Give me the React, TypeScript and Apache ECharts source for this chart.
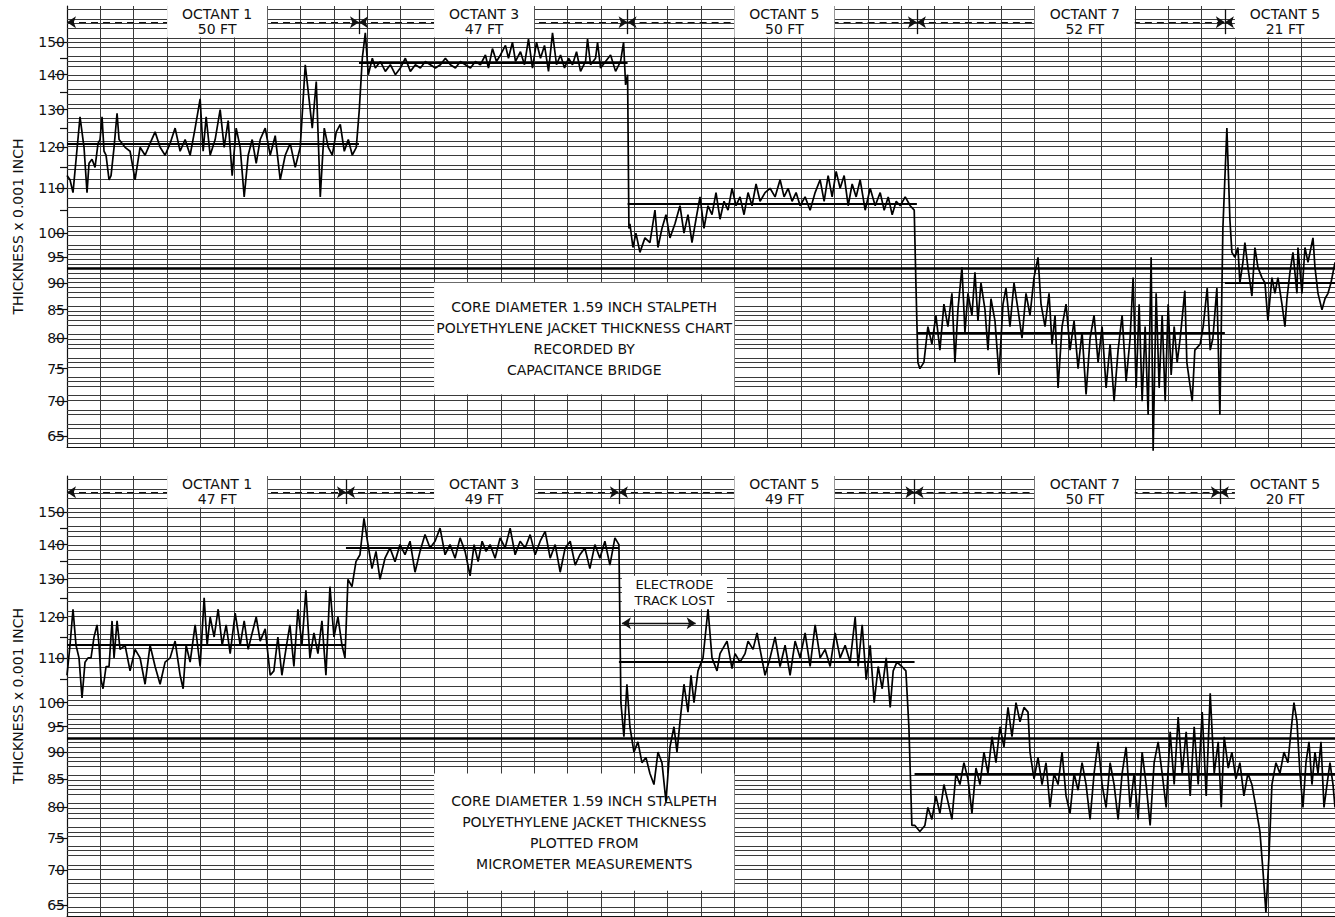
import React, { useEffect, useRef } from 'react';
import * as echarts from 'echarts';

// ---------- DATA ----------
const yLabelValues = [65, 70, 75, 80, 85, 90, 95, 100, 110, 120, 130, 140, 150];
const yMinorTickValues = [105, 115, 125, 135, 145];
const yRange = [63.5, 162];
const xRange = [0, 380];
const referenceLevel = 93;

const topOctantNames = ['OCTANT 1', 'OCTANT 3', 'OCTANT 5', 'OCTANT 7', 'OCTANT 5'];
const topOctantFeet = ['50 FT', '47 FT', '50 FT', '52 FT', '21 FT'];
const topOctantBounds = [0, 87.5, 168, 254.7, 347, 380];
const topOctantMeans = [121, 143.5, 106.5, 81, 90];

const bottomOctantNames = ['OCTANT 1', 'OCTANT 3', 'OCTANT 5', 'OCTANT 7', 'OCTANT 5'];
const bottomOctantFeet = ['47 FT', '49 FT', '49 FT', '50 FT', '20 FT'];
const bottomOctantBounds = [0, 83.6, 165.4, 254, 345.5, 380];
const bottomOctantMeans = [113, 139, 109, 86, 86];

const topNote = 'CORE DIAMETER 1.59 INCH STALPETH\nPOLYETHYLENE JACKET THICKNESS CHART\nRECORDED BY\nCAPACITANCE BRIDGE';
const bottomNote = 'CORE DIAMETER 1.59 INCH STALPETH\nPOLYETHYLENE JACKET THICKNESS\nPLOTTED FROM\nMICROMETER MEASUREMENTS';
const trackLostNote = 'ELECTRODE\nTRACK LOST';
const axisTitle = 'THICKNESS x 0.001 INCH';

// top trace: [chart position, thickness]
const topOctant1: [number, number][] = [
  [0,113],[0.9,112],[1.8,109],[3.9,128],[5.1,120],[6,109],[6.6,116],[7.5,117],[8.4,115],[9.3,121],[9.9,122],[10.5,128],[11.1,119],[11.7,118],[12.6,112],[13.2,113],[14.1,120],[15,129],[15.6,122],[17.4,120],[18.9,119],[20.4,112],[21.9,120],[23.4,118],[24.9,121],[26.4,124],[27.9,120],[29.4,118],[30.9,121],[32.4,125],[33.9,119],[35.4,122],[36.9,118],[38.4,125],[39.9,133],[40.8,119],[41.7,128],[42.9,118],[44.4,122],[45.9,130],[47.1,120],[48.3,127],[49.5,113],[50.7,125],[51.9,120],[53.1,108],[54.3,118],[55.5,122],[56.7,116],[57.9,122],[59.4,125],[60.9,118],[62.4,123],[63.9,112],[65.4,118],[66.9,121],[68.4,115],[69.9,120],[71.4,143],[72.3,135],[73.5,125],[74.7,138],[75.9,108],[77.1,125],[78.3,120],[79.5,118],[80.7,124],[81.9,126],[83.1,119],[84.3,122],[85.5,118],[86.7,120]
];
const topOctant3: [number, number][] = [
  [87.6,130],[88.5,145],[89.4,153],[90.3,140],[91.5,145],[92.4,142],[93.9,144],[95.4,141],[96.9,143],[98.4,140],[99.9,142],[101.4,145],[102.9,141],[104.4,143],[105.9,142],[107.4,144],[108.9,143],[110.4,142],[111.9,143],[113.4,145],[114.9,143],[116.4,142],[117.9,144],[119.4,143],[120.9,142],[122.4,144],[123.9,143],[125.4,146],[126.3,142],[127.5,148],[128.7,144],[129.9,146],[131.4,149],[132.3,145],[133.5,150],[134.4,144],[135.9,147],[137.1,143],[138.3,151],[139.5,142],[140.7,150],[141.9,145],[143.1,149],[144.3,141],[145.5,153],[146.7,143],[147.9,146],[149.1,142],[150.3,145],[151.5,143],[152.7,147],[153.9,141],[155.4,144],[156,151],[156.9,143],[158.4,145],[159,150],[159.9,142],[161.4,144],[162.9,146],[164.4,141],[165.9,144],[166.8,150],[167.4,137],[168,140]
];
const topOctant5: [number, number][] = [
  [168.4,101],[168.7,102],[169.6,97],[170.5,100],[171.7,96],[173.2,99],[174.7,98],[176.2,105],[177.1,97],[178.3,101],[179.5,104],[180.7,99],[182.2,102],[183.7,106],[184.9,100],[186.1,104],[187.3,98],[188.5,103],[189.7,108],[190.9,101],[192.1,106],[193.3,104],[194.5,109],[195.7,103],[196.9,107],[198.1,105],[199.3,110],[200.5,106],[201.7,108],[202.9,104],[204.1,109],[205.3,106],[206.5,111],[207.7,107],[209.2,109],[210.7,110],[212.2,108],[213.7,112],[214.9,108],[216.1,110],[217.3,107],[218.5,109],[219.7,106],[221.2,108],[222.7,105],[224.2,109],[225.7,112],[226.9,107],[228.1,113],[229.3,108],[230.5,114],[231.7,110],[232.9,113],[234.1,106],[235.3,111],[236.5,108],[237.7,112],[239.2,105],[240.7,110],[242.2,106],[243.7,109],[244.9,105],[246.1,108],[247.3,104],[248.5,107],[249.7,106],[251.2,108],[252.7,106],[253.9,105],[254.4,90]
];
const topOctant7: [number, number][] = [
  [255,76],[255.6,75],[256.8,76],[258,82],[259.2,79],[260.4,84],[261.6,78],[262.8,86],[264,82],[265.2,88],[266.1,76],[267,85],[268.2,93],[269.1,81],[270,88],[271.2,84],[272.1,92],[273,83],[273.9,90],[275.1,85],[276,78],[276.9,87],[278.1,83],[279.3,74],[280.5,86],[281.4,89],[282.6,82],[283.8,90],[285,85],[286.2,80],[287.4,88],[288.6,84],[289.8,91],[291,95],[291.9,86],[293.1,82],[294.3,88],[295.2,79],[296.1,84],[297,72],[298.2,82],[299.4,86],[300.6,78],[301.8,83],[303,75],[304.2,81],[305.4,71],[306.6,80],[307.8,84],[309,76],[310.2,82],[311.4,72],[312.6,79],[313.8,70],[315,78],[316.2,84],[317.4,73],[318.6,80],[319.5,91],[320.4,72],[321.3,86],[322.2,70],[323.1,82],[324,68],[324.9,95],[325.5,63],[326.4,88],[327.3,72],[328.2,84],[329.1,70],[330,86],[330.9,74],[331.8,82],[332.7,76],[333.6,80],[335,88.5],[335.6,76],[337.2,70],[338,78],[339.6,79],[340.5,82],[341.7,89],[342.6,78],[343.4,80],[344.6,89],[345.5,68],[346.4,101]
];
const topOctant5b: [number, number][] = [
  [347.6,125],[348.5,103],[349.1,96],[350,95],[350.9,97],[351.5,90],[352.4,94],[353,98],[353.9,93],[355.1,87.5],[356,97],[356.9,93],[358.1,91],[359,90],[359.9,83],[361.1,91],[362,88],[362.9,91],[364.1,86],[365,82],[365.6,87],[366.5,92],[367.4,96],[368.6,88],[368.9,97],[370.1,88],[371,97],[371.9,94],[373.4,99],[374,93],[374.9,88],[376.1,85],[377,87],[377.9,88],[378.8,90],[380,94]
];

// bottom trace
const bottomOctant1: [number, number][] = [
  [0,106],[0.9,113],[1.8,122],[2.7,113],[3.6,110],[4.5,101],[5.4,109],[6.3,110],[7.2,110],[8.1,115],[9,118],[9.6,113],[10.2,105],[10.8,103],[11.7,108],[12.6,108],[13.5,119],[14.1,110],[15,119],[15.9,112],[17.4,113],[18.9,107],[20.4,112],[21.9,110],[23.4,104],[24.9,113],[26.4,108],[27.9,104],[29.4,109],[30.9,110],[32.4,114],[33.9,106],[34.8,103],[35.7,113],[36.9,109],[38.4,118],[39.9,108],[41.1,125],[42,113],[42.9,120],[44.1,115],[45.3,122],[46.5,113],[47.7,118],[48.9,111],[50.4,121],[51.9,113],[53.1,119],[54.3,112],[55.5,116],[56.7,120],[57.9,114],[59.4,117],[60.9,106],[62,107],[63.2,115],[64.4,106],[65.6,112],[66.8,118],[68,108],[69.2,122],[70.4,113],[71.6,127],[72.8,110],[74,116],[75.2,111],[76.4,119],[77.6,106],[78.8,128],[80,115],[81.2,120],[82.4,113],[83.3,110]
];
const bottomOctant3: [number, number][] = [
  [84.2,130],[85.4,128],[86.6,135],[87.8,137],[89,148],[90.2,140],[91.4,133],[92.6,138],[93.8,130],[95.3,136],[96.8,139],[98.3,135],[99.8,140],[101.3,137],[102.8,141],[104.3,132],[105.8,138],[107.3,143],[108.8,139],[110.3,141],[111.8,145],[113.3,137],[114.8,140],[116.3,136],[117.8,142],[119.3,138],[120.8,131],[122,140],[123.2,135],[124.4,141],[125.6,138],[126.8,140],[128.3,136],[129.8,142],[131.3,139],[132.8,145],[134.3,137],[135.8,141],[137.3,139],[138.8,143],[140.3,137],[141.8,141],[143.3,144],[144.8,136],[146.3,140],[147.8,132],[149.3,139],[150.8,141],[152.3,134],[153.7,137],[155.2,139],[156.7,133],[158.2,140],[159.7,136],[161.2,141],[162.7,134],[164.2,142],[165.4,140]
];
const bottomOctant5: [number, number][] = [
  [166,100],[166.9,93],[167.8,104],[168.7,95],[169.9,90],[171.1,92],[172.3,88],[173.5,89],[174.7,86],[175.9,84],[177.1,90],[178.3,88],[179.5,81],[180.7,91],[181.9,95],[182.8,90],[183.7,96],[184.9,104],[186.1,98],[187,106],[187.9,100],[189.1,107],[190.6,110],[192.1,122],[193.3,110],[194.8,107],[195.7,111],[197.8,114],[199.3,107.5],[200.2,111],[201.7,109],[203.2,111],[204.1,114],[205.6,112],[206.8,116],[207.7,112],[209.2,106],[210.7,110],[212.2,115],[213.7,108],[215.2,113],[216.7,106],[218.2,114],[219.7,110],[221.2,116],[222.7,108],[224.2,118],[225.7,110],[227.2,112],[228.7,108],[230.2,116],[231.7,110],[233.2,113],[234.7,109],[236.2,120],[237.1,108],[238.3,118],[239.5,105],[240.7,113],[241.9,100],[243.1,108],[244.3,103],[245.5,110],[246.7,99],[247.6,107],[248.7,109],[250.2,108],[251.4,107],[252.3,95],[253.2,77]
];
const bottomOctant7: [number, number][] = [
  [254.1,77],[255.6,76],[257.1,77],[258,80],[259.2,78],[260.4,82],[261.6,79],[262.8,84],[264,81],[265.2,78],[266.4,86],[267.6,84],[268.8,88],[270,85],[271.2,79],[272.4,87],[273.6,84],[274.8,90],[276,86],[277.2,93],[278.4,88],[279.6,95],[280.8,91],[282,99],[283.2,93],[284.4,100],[285.6,96],[286.8,99],[288,98],[288.6,90],[289.8,85],[291,89],[292.2,84],[293.4,88],[294.6,80],[295.8,86],[297,84],[298.2,90],[299.4,82],[300.6,79],[301.8,86],[303,83],[304.2,88],[305.4,84],[306.6,78],[307.8,86],[309,92],[310.2,84],[311.4,80],[312.6,88],[313.8,84],[315,78],[316.2,86],[317.4,91],[318.6,80],[319.8,86],[321,78],[322.2,90],[323.4,84],[324.6,77],[325.8,88],[327,92],[328.2,86],[329.4,80],[330.6,94],[331.8,84],[333,97],[334.2,86],[335.4,94],[336.6,82],[337.8,95],[339,84],[340.2,98],[341.4,82],[342.6,102],[343.8,86],[345,92]
];
const bottomOctant5b: [number, number][] = [
  [345.9,80],[346.8,93],[348,87],[349.1,90],[350.3,85],[351.5,88],[352.7,82],[353.9,86],[355.1,84],[356.3,80],[357.5,76],[358.4,70],[359.3,64],[360.2,72],[361.1,84],[362.3,88],[363.5,86],[364.7,90],[365.9,88],[366.8,94],[367.7,100],[368.6,96],[369.5,86],[370.4,80],[371.3,88],[372.2,92],[373.1,84],[374,90],[374.9,86],[375.8,92],[376.7,80],[377.6,84],[378.5,88],[379.4,84],[380,80]
];

// ---------- LAYOUT / STYLE ----------
const L = Math.log;
const FONT = 'DejaVu Sans';
const INK = '#111';
const GRID_INK = '#3a3a3a';
const headerBoxes = [[30, 60], [110, 140], [200, 230], [290, 320], [350, 380]];

function gridLineValues(): number[] {
  const v: number[] = [];
  for (let t = 64; t <= 100; t += 1) v.push(t);
  for (let t = 102; t <= 162; t += 2) v.push(t);
  return v;
}

function panelSeries(
  i: number,
  trace: [number, number][],
  names: string[],
  feet: string[],
  bounds: number[],
  means: number[],
  note: string,
  noteBox: number[],
  withTrackLost: boolean
): any[] {
  const axes = { xAxisIndex: i, yAxisIndex: i * 2 };
  const hLines: any[] = gridLineValues().map((v) => ({ yAxis: L(v) }));
  hLines.push({ yAxis: L(yRange[1]) });
  hLines.push({ yAxis: L(referenceLevel), lineStyle: { color: '#000', width: 2.6, type: 'solid' } });
  means.forEach((m, k) => {
    hLines.push([
      { coord: [bounds[k], L(m)], lineStyle: { color: '#000', width: 2, type: 'solid' } },
      { coord: [bounds[k + 1], L(m)] },
    ]);
  });

  const arrows: any[] = [];
  for (let k = 0; k < bounds.length - 1; k++) {
    arrows.push([{ coord: [bounds[k], L(156.5)] }, { coord: [bounds[k + 1], L(156.5)] }]);
  }
  const dividers: any[] = bounds.slice(1, bounds.length - 1).map((b) => [
    { coord: [b, L(160.8)] },
    { coord: [b, L(152.6)] },
  ]);

  const areas: any[] = headerBoxes.map((bx, k) => [
    {
      name: names[k] + '\n' + feet[k],
      xAxis: bx[0],
      yAxis: L(151.5),
      label: { fontSize: 14, lineHeight: 15 },
    },
    { xAxis: bx[1], yAxis: L(yRange[1]) },
  ]);
  areas.push([
    { name: note, xAxis: noteBox[0], yAxis: L(noteBox[2]), label: { fontSize: 14, lineHeight: 21 } },
    { xAxis: noteBox[1], yAxis: L(noteBox[3]) },
  ]);
  if (withTrackLost) {
    areas.push([
      { name: trackLostNote, xAxis: 166.3, yAxis: L(122), label: { fontSize: 13, lineHeight: 16 } },
      { xAxis: 197.8, yAxis: L(131) },
    ]);
  }

  const out: any[] = [
    {
      type: 'line', ...axes, data: [], silent: true, z: 1,
      markLine: {
        z: 1, silent: true, animation: false, symbol: ['none', 'none'], label: { show: false },
        lineStyle: { color: GRID_INK, width: 1, type: 'solid' }, data: hLines,
      },
    },
    {
      type: 'line', ...axes, data: [], silent: true, z: 2,
      markLine: {
        z: 2, silent: true, animation: false, symbol: ['arrow', 'arrow'], symbolSize: 9, label: { show: false },
        lineStyle: { color: INK, width: 1.2, type: [7, 5] }, data: arrows,
      },
    },
    {
      type: 'line', ...axes, data: [], silent: true, z: 2,
      markLine: {
        z: 2, silent: true, animation: false, symbol: ['none', 'none'], label: { show: false },
        lineStyle: { color: INK, width: 1.3, type: 'solid' }, data: dividers,
      },
    },
    {
      type: 'line', ...axes, data: [], silent: true, z: 3,
      markArea: {
        z: 3, silent: true, animation: false,
        itemStyle: { color: '#ffffff', opacity: 1, borderWidth: 0 },
        label: { show: true, position: 'inside', color: INK, fontFamily: FONT, align: 'center', verticalAlign: 'middle' },
        data: areas,
      },
    },
    {
      type: 'line', ...axes, z: 4, silent: true, clip: false, showSymbol: false, symbol: 'none',
      lineStyle: { color: '#000', width: 1.7 },
      data: trace.map(([u, t]) => [u, L(t)]),
    },
  ];
  if (withTrackLost) {
    out.push({
      type: 'line', ...axes, data: [], silent: true, z: 4,
      markLine: {
        z: 4, silent: true, animation: false, symbol: ['arrow', 'arrow'], symbolSize: 9, label: { show: false },
        lineStyle: { color: INK, width: 1.3, type: 'solid' },
        data: [[{ coord: [166.3, L(118.4)] }, { coord: [188.4, L(118.4)] }]],
      },
    });
  }
  return out;
}

function yAxesFor(i: number): any[] {
  const rng = { min: L(yRange[0]), max: L(yRange[1]) };
  return [
    {
      type: 'value', gridIndex: i, position: 'left', ...rng,
      name: axisTitle, nameLocation: 'middle', nameGap: 42, nameRotate: 90,
      nameTextStyle: { fontSize: 14, color: INK, fontFamily: FONT },
      axisLine: { show: true, lineStyle: { color: INK, width: 1.2 } },
      axisTick: { show: true, length: 12, customValues: yLabelValues.map(L), lineStyle: { color: INK, width: 1.2 } },
      axisLabel: {
        show: true, customValues: yLabelValues.map(L), margin: 2,
        formatter: (v: number) => String(Math.round(Math.exp(v))),
        fontSize: 14, color: INK, fontFamily: FONT,
      },
      splitLine: { show: false },
    },
    {
      type: 'value', gridIndex: i, position: 'left', offset: 0, ...rng,
      axisLine: { show: false },
      axisTick: { show: true, length: 7, customValues: yMinorTickValues.map(L), lineStyle: { color: INK, width: 1.2 } },
      axisLabel: { show: false },
      splitLine: { show: false },
    },
  ];
}

function xAxisFor(i: number): any {
  return {
    type: 'value', gridIndex: i, min: xRange[0], max: xRange[1], interval: 10,
    axisLabel: { show: false }, axisTick: { show: false },
    axisLine: { show: true, lineStyle: { color: INK, width: 1 } },
    splitLine: { show: true, lineStyle: { color: GRID_INK, width: 1 } },
  };
}

export default function App() {
  const ref = useRef<HTMLDivElement>(null);
  useEffect(() => {
    if (!ref.current) return;
    const chart = echarts.init(ref.current, undefined, { renderer: 'svg' });
    const topTrace = [...topOctant1, ...topOctant3, ...topOctant5, ...topOctant7, ...topOctant5b];
    const bottomTrace = [...bottomOctant1, ...bottomOctant3, ...bottomOctant5, ...bottomOctant7, ...bottomOctant5b];
    chart.setOption({
      animation: false,
      backgroundColor: '#ffffff',
      textStyle: { fontFamily: FONT },
      grid: [
        { left: 67, top: 6, width: 1268, height: 441 },
        { left: 67, top: 476, width: 1268, height: 440 },
      ],
      xAxis: [xAxisFor(0), xAxisFor(1)],
      yAxis: [...yAxesFor(0), ...yAxesFor(1)],
      series: [
        ...panelSeries(0, topTrace, topOctantNames, topOctantFeet, topOctantBounds, topOctantMeans, topNote, [110, 200, 71, 90], false),
        ...panelSeries(1, bottomTrace, bottomOctantNames, bottomOctantFeet, bottomOctantBounds, bottomOctantMeans, bottomNote, [110, 200, 67, 86], true),
      ],
    });
    return () => chart.dispose();
  }, []);
  return (
    <div
      ref={ref}
      style={{ position: 'fixed', left: 0, top: 0, width: 1335, height: 917, background: '#fff' }}
    />
  );
}
